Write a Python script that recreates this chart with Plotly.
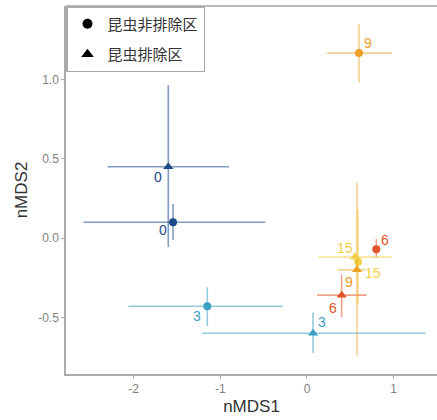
import plotly.graph_objects as go

# ---- data ----
days = ["0", "3", "6", "9", "15"]
day_colors = ["#1B4B8C", "#3B9EC2", "#E0532B", "#E9A024", "#F4CF45"]
bar_colors = ["rgba(27,75,140,0.55)", "rgba(59,158,194,0.55)", "rgba(224,83,43,0.55)",
              "rgba(233,160,36,0.5)", "rgba(244,207,69,0.55)"]

# 昆虫非排除区 (circles)
c_x = [-1.545, -1.15, 0.80, 0.60, 0.59]
c_y = [0.10, -0.43, -0.07, 1.166, -0.15]
c_xlo = [-2.58, -2.06, 0.76, 0.23, 0.56]
c_xhi = [-0.48, -0.28, 0.84, 0.98, 0.62]
c_ylo = [-0.013, -0.555, -0.126, 0.98, -0.42]
c_yhi = [0.214, -0.31, -0.006, 1.35, 0.18]

# 昆虫排除区 (triangles)
t_x = [-1.60, 0.07, 0.40, 0.577, 0.554]
t_y = [0.45, -0.60, -0.36, -0.20, -0.12]
t_xlo = [-2.30, -1.21, 0.115, 0.35, 0.13]
t_xhi = [-0.90, 1.37, 0.69, 0.67, 0.98]
t_ylo = [-0.057, -0.725, -0.50, -0.74, -0.15]
t_yhi = [0.965, -0.47, -0.23, 0.35, -0.09]

# label offsets (pixels) for the day labels
c_lab_dx = [-10, -10, 9, 9, 15]
c_lab_dy = [-8, -10, 9, 10, -11]
t_lab_dx = [-10, 9, -9, -8, -10]
t_lab_dy = [-10, 11, -13, -12, 9]

legend_names = ["昆虫非排除区", "昆虫排除区"]

x_ticks = [-2, -1, 0, 1]
y_ticks = [-0.5, 0.0, 0.5, 1.0]
y_tick_text = ["-0.5", "0.0", "0.5", "1.0"]

fig = go.Figure()

def add_points(xs, ys, xlo, xhi, ylo, yhi, symbol, size):
    for i in range(len(xs)):
        fig.add_trace(go.Scatter(
            x=[xs[i]], y=[ys[i]], mode="markers",
            marker=dict(symbol=symbol, size=size, color=day_colors[i]),
            error_x=dict(type="data", symmetric=False,
                         array=[xhi[i] - xs[i]], arrayminus=[xs[i] - xlo[i]],
                         color=bar_colors[i], thickness=1.6, width=0),
            error_y=dict(type="data", symmetric=False,
                         array=[yhi[i] - ys[i]], arrayminus=[ys[i] - ylo[i]],
                         color=bar_colors[i], thickness=1.6, width=0),
            showlegend=False, hoverinfo="skip"))

add_points(c_x, c_y, c_xlo, c_xhi, c_ylo, c_yhi, "circle", 8)
add_points(t_x, t_y, t_xlo, t_xhi, t_ylo, t_yhi, "triangle-up", 9)

# legend entries
fig.add_trace(go.Scatter(x=[None], y=[None], mode="markers", name=legend_names[0],
                         legendgroup="a",
                         marker=dict(symbol="circle", size=10, color="black")))
fig.add_trace(go.Scatter(x=[None], y=[None], mode="markers", name=legend_names[1],
                         legendgroup="b",
                         marker=dict(symbol="triangle-up", size=11, color="black")))

lab_font = "Liberation Sans, Arial, sans-serif"
for xs, ys, dxs, dys in [(c_x, c_y, c_lab_dx, c_lab_dy), (t_x, t_y, t_lab_dx, t_lab_dy)]:
    for i in range(len(xs)):
        fig.add_annotation(x=xs[i], y=ys[i], xref="x", yref="y", text=days[i],
                           showarrow=False, xshift=dxs[i], yshift=dys[i],
                           font=dict(family=lab_font, size=14, color=day_colors[i]))

fig.add_shape(type="line", xref="paper", yref="paper", x0=0, x1=1, y0=1, y1=1,
              line=dict(color="#BBBBBB", width=2))

fig.update_layout(
    width=437, height=420,
    margin=dict(l=66, r=0, t=6, b=46),
    paper_bgcolor="white", plot_bgcolor="white",
    font=dict(family=lab_font, color="#333333"),
    showlegend=True,
    legend=dict(x=0, y=1, xanchor="left", yanchor="top",
                bgcolor="white", bordercolor="#AAAAAA", borderwidth=1.5,
                font=dict(family="Noto Sans CJK JP, Noto Sans CJK SC, sans-serif",
                          size=15, color="#333333"),
                tracegroupgap=8, itemsizing="trace"),
    xaxis=dict(range=[-2.78, 1.50], tickvals=x_ticks, ticktext=[str(v) for v in x_ticks],
               automargin=False,
               showgrid=False, zeroline=False, showline=True, linecolor="#AAAAAA", linewidth=1.5,
               ticks="outside", ticklen=3, tickcolor="#AAAAAA",
               tickfont=dict(size=12, color="#808080"),
               title=dict(text="nMDS1", font=dict(size=17, color="#333333"), standoff=5)),
    yaxis=dict(range=[-0.857, 1.463], tickvals=y_ticks, ticktext=y_tick_text,
               automargin=False,
               showgrid=False, zeroline=False, showline=True, linecolor="#AAAAAA", linewidth=1.5,
               ticks="outside", ticklen=3, tickcolor="#AAAAAA",
               tickfont=dict(size=12, color="#808080"),
               title=dict(text="nMDS2", font=dict(size=17, color="#333333"), standoff=6)),
)

fig.write_html("out.html", config={"displayModeBar": False},
               post_script="document.body.style.margin='0px';")
